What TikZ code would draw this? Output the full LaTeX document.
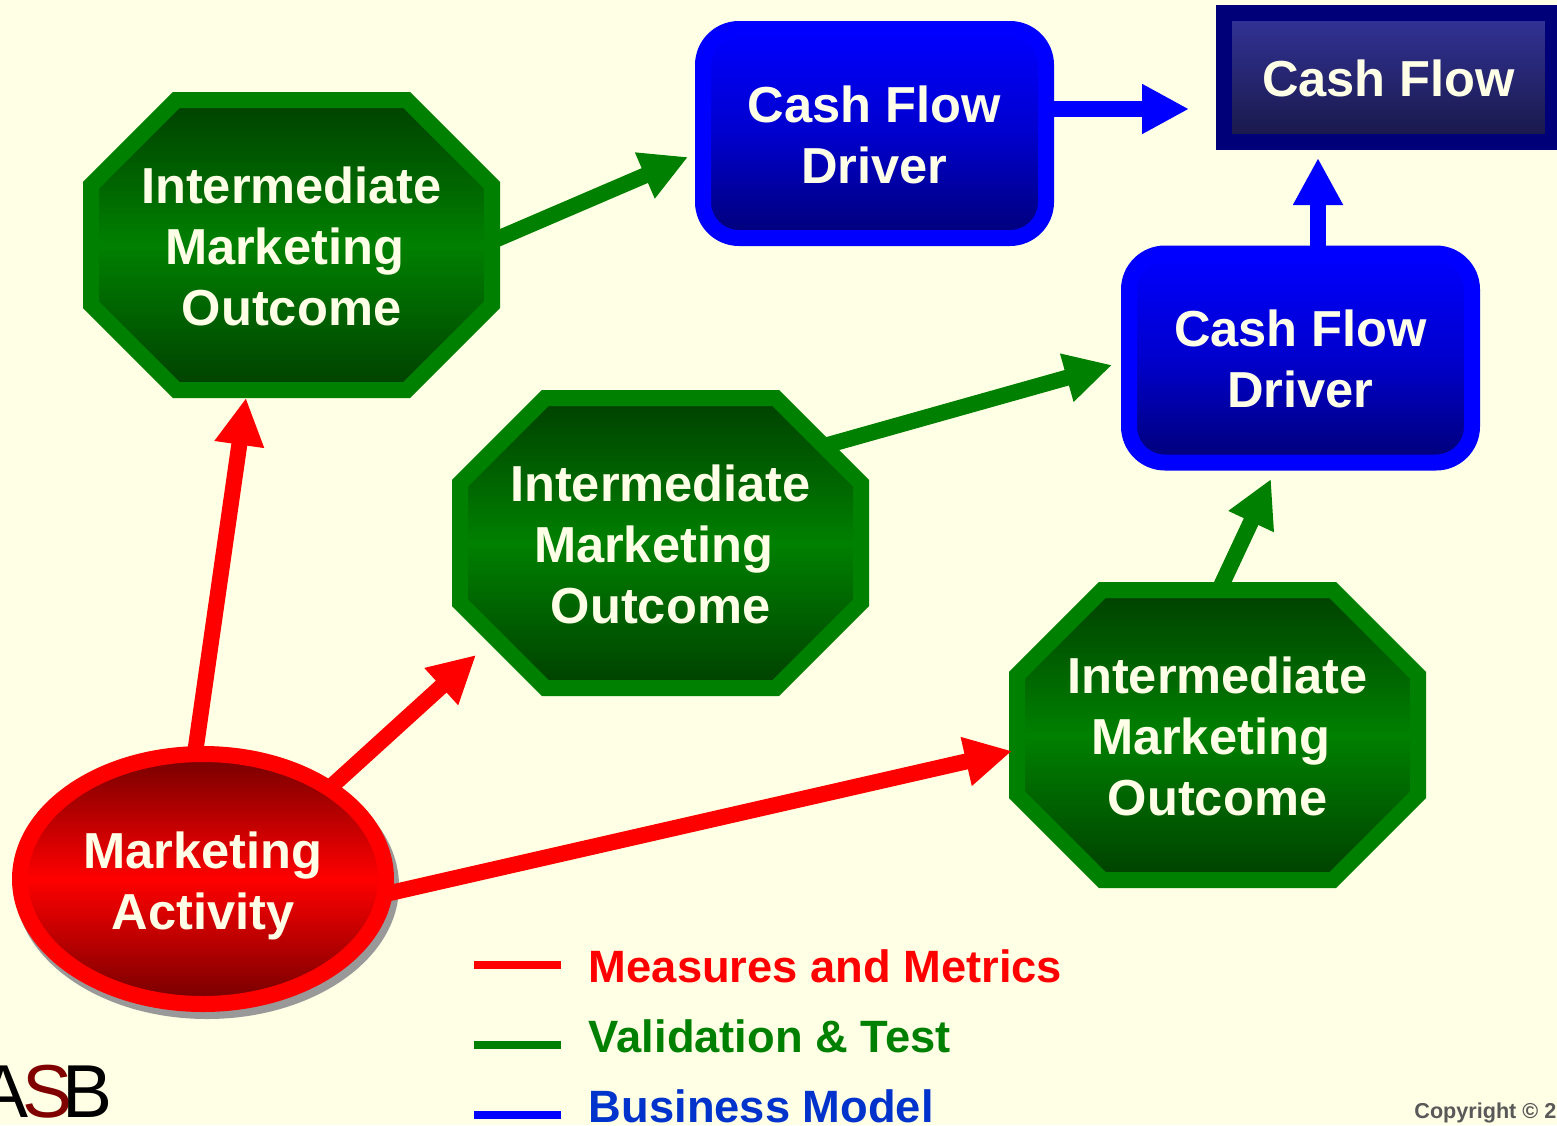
\documentclass[tikz,border=0pt]{standalone}
\usepackage{fontspec}
\setmainfont{Liberation Sans}
\usetikzlibrary{arrows.meta,shapes.geometric,shapes.misc}
\definecolor{paper}{RGB}{255,255,229}
\definecolor{ivory}{RGB}{255,255,232}
\definecolor{gborder}{RGB}{0,128,0}
\definecolor{gdark}{RGB}{0,64,0}
\definecolor{rdark}{RGB}{115,0,0}
\definecolor{navy}{RGB}{0,0,120}
\definecolor{bmid}{RGB}{0,0,205}
\definecolor{slate}{RGB}{51,51,153}
\definecolor{ink}{RGB}{24,24,72}
\definecolor{modelblue}{RGB}{0,51,204}
\definecolor{logored}{RGB}{128,0,0}
\newcommand{\lift}[1][19.3pt]{\rule{0pt}{#1}}
\tikzset{
    label font/.style={font=\fontsize{25.3}{30.5}\selectfont\bfseries, text=ivory, align=center, inner sep=0pt},
    outcome/.style={chamfered rectangle, chamfered rectangle xsep=21.3pt, chamfered rectangle ysep=21.3pt,
        chamfered rectangle angle=45, label font, draw=gborder, line width=8pt,
        top color=gdark, bottom color=gdark, middle color=gborder,
        minimum width=200.5pt, minimum height=145pt},
    driver/.style={rectangle, rounded corners=18pt, label font, draw=blue, line width=8pt,
        top color=blue, bottom color=navy, middle color=bmid,
        minimum width=171.5pt, minimum height=104.5pt},
    flow/.style={rectangle, label font, draw=navy, line width=8pt,
        top color=slate, bottom color=ink, minimum width=164.5pt, minimum height=64.5pt},
    activity/.style={ellipse, label font, draw=red, line width=8pt,
        top color=rdark, bottom color=rdark, middle color=red,
        minimum width=183pt, minimum height=125pt, inner sep=0pt},
    link/.style={-{Triangle[length=23.5pt,width=23.5pt]}, line width=8pt, shorten <=-3pt},
    key/.style={line width=4pt},
    keytext/.style={anchor=west, inner sep=0pt, font=\fontsize{22.65}{27}\selectfont\bfseries},
}
\begin{document}
\begin{tikzpicture}[x=0.5pt, y=-0.5pt]
    \useasboundingbox (0, 0) rectangle (1557, 1125);
    \fill [paper] (0, 0) rectangle (1557, 1125);
    \fill [black!40] (207, 886) ellipse [x radius=192, y radius=133];
    % nodes
    \node [outcome] (imo1) at (291.5, 245) {\lift Intermediate\\Marketing\kern7pt\\Outcome};
    \node [outcome] (imo2) at (660.5, 543) {\lift Intermediate\\Marketing\kern7pt\\Outcome};
    \node [outcome] (imo3) at (1217.5, 735) {\lift Intermediate\\Marketing\kern7pt\\Outcome};
    \node [driver] (drv1) at (874.5, 133.5) {\lift Cash Flow\\Driver};
    \node [driver] (drv2) at (1300.5, 358) {\lift Cash Flow\\Driver};
    \node [flow] (cash) at (1388.5, 77.5) {\lift Cash Flow};
    \node [activity] (act) at (203, 879) {\lift[25.5pt]Marketing\\Activity};
    % free arrow ends
    \coordinate (tip1) at (688, 157);
    \coordinate (tip2) at (1112, 365);
    \coordinate (tip3) at (1271, 479);
    \coordinate (tip4) at (1189, 109);
    \coordinate (tip5) at (1318, 158);
    \coordinate (tip6) at (246, 398);
    \coordinate (tip7) at (476, 655);
    \coordinate (tip8) at (1012, 751);
    % connectors
    \draw [link, gborder] (imo1.2.7) -- (tip1);
    \draw [link, gborder] (imo2.30) -- (tip2);
    \draw [link, gborder] (imo3.88.3) -- (tip3);
    \draw [link, blue] (drv1.east |- tip4) -- (tip4);
    \draw [link, blue] (tip5 |- drv2.north) -- (tip5);
    \draw [link, red] (act.93.5) -- (tip6);
    \draw [link, red] (act.36.7) -- (tip7);
    \draw [link, red] (act.-4.3) -- (tip8);
    % key
    \node [keytext, text=red] (keya) at (588.5, 966) {Measures and Metrics};
    \node [keytext, text=gborder] (keyb) at (588.5, 1036) {Validation \& Test};
    \node [keytext, text=modelblue] (keyc) at (588.5, 1106) {Business Model};
    \coordinate (keya0) at (474, 965);
    \coordinate (keya1) at (561, 965);
    \coordinate (keyb0) at (474, 1045);
    \coordinate (keyb1) at (561, 1045);
    \coordinate (keyc0) at (474, 1115);
    \coordinate (keyc1) at (561, 1115);
    \draw [key, red] (keya0) -- (keya1);
    \draw [key, gborder] (keyb0) -- (keyb1);
    \draw [key, blue] (keyc0) -- (keyc1);
    % corner marks
    \node [anchor=base west, inner sep=0pt, font=\fontsize{37.5}{40}\selectfont] (logo) at (-21.5, 1117)
        {A\kern-3.4pt\textcolor{logored}{S}\kern-5pt B};
    \node [anchor=base west, inner sep=0pt, text=black!65, font=\fontsize{10.8}{13}\selectfont\bfseries] (copy) at (1414, 1118)
        {Copyright © 2000};
\end{tikzpicture}
\end{document}
